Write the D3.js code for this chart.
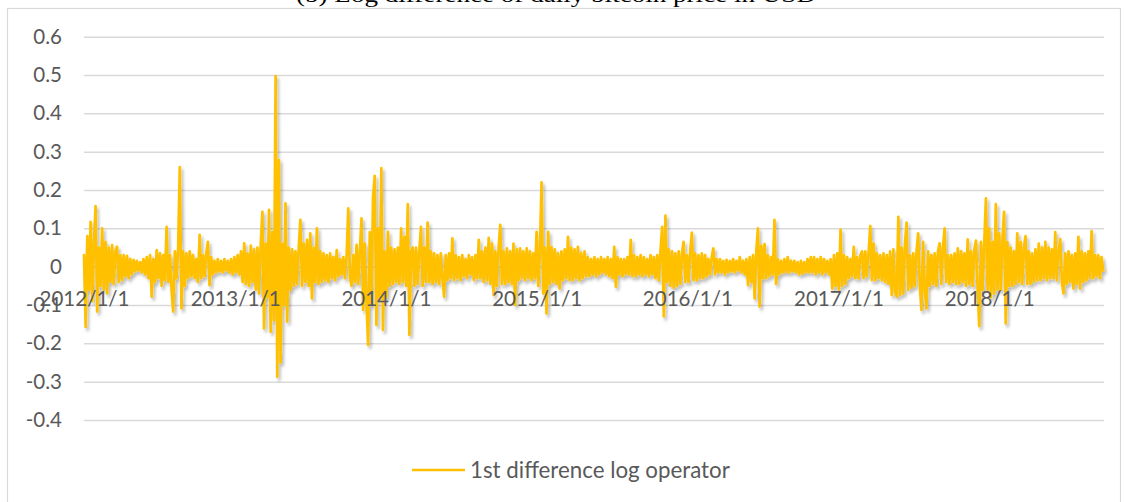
<!DOCTYPE html>
<html><head><meta charset="utf-8">
<script src="https://d3js.org/d3.v7.min.js"></script>
<style>body{margin:0;background:#fff}</style>
</head><body>
<svg id="c" width="1124" height="502"></svg>
<script>
const seriesName = "1st difference log operator";
const startDate = "2012-01-01";
const stepDays = 4;
const values = [
0.03,-0.157,0.08,-0.06,0.117,-0.09,0.06,0.158,-0.117,0.05,
-0.05,0.10,-0.06,0.065,-0.07,0.05,-0.04,0.056,-0.045,0.04,
0.052,-0.04,0.03,-0.035,0.03,-0.025,0.028,-0.03,0.02,-0.02,
0.018,-0.012,0.015,-0.01,0.012,-0.015,0.02,-0.02,0.025,-0.03,
0.03,-0.078,0.02,-0.04,0.043,-0.03,0.035,-0.05,0.03,-0.035,
0.104,-0.04,0.03,-0.06,-0.117,0.04,-0.03,0.05,0.26,-0.109,
0.04,-0.05,0.035,-0.03,0.04,-0.025,0.03,-0.03,0.02,-0.04,
0.083,-0.03,0.03,-0.025,0.035,0.065,-0.048,0.025,-0.02,0.015,
-0.015,0.02,-0.012,0.015,-0.015,0.02,-0.01,0.015,-0.015,0.02,
-0.02,0.025,-0.015,0.03,-0.02,0.04,-0.04,0.061,-0.045,0.035,
-0.05,0.055,-0.04,0.045,-0.06,0.05,-0.07,0.06,0.143,-0.161,
0.06,-0.08,0.148,-0.17,0.09,-0.14,0.497,-0.287,0.278,-0.25,
0.06,-0.1,0.165,-0.143,0.05,-0.06,0.045,-0.05,0.04,-0.045,
0.05,0.122,-0.05,0.06,-0.04,0.07,-0.05,0.087,-0.083,0.05,
-0.04,0.1,-0.045,0.04,-0.04,0.035,-0.035,0.03,-0.04,0.035,
-0.03,0.025,-0.035,0.043,-0.025,0.02,-0.02,0.025,-0.03,0.03,
0.152,-0.03,-0.05,0.03,-0.04,0.057,-0.045,0.04,0.126,-0.113,
0.06,-0.09,-0.204,0.09,-0.1,0.183,0.237,-0.152,0.1,-0.08,
0.257,-0.165,0.04,-0.078,0.091,-0.05,0.05,-0.045,0.045,-0.04,
0.05,-0.045,0.1,-0.04,0.078,-0.05,0.163,-0.178,0.04,0.05,
-0.05,0.05,-0.045,0.04,0.104,-0.05,0.05,-0.04,0.115,-0.04,
0.04,-0.045,0.035,-0.04,0.03,-0.045,0.035,-0.03,-0.078,0.03,
-0.035,0.035,-0.03,0.074,-0.035,0.03,-0.03,0.025,-0.035,0.03,
-0.025,0.02,-0.03,0.03,-0.02,0.025,-0.035,0.03,-0.03,0.07,
-0.03,0.04,-0.04,0.05,-0.035,0.075,-0.045,0.06,-0.074,0.04,
-0.05,0.05,0.109,-0.045,0.04,-0.045,0.048,-0.04,0.04,-0.045,
0.06,-0.1,0.045,-0.035,0.048,-0.03,0.04,-0.035,0.048,-0.03,
0.04,-0.035,0.035,-0.03,0.091,-0.05,0.04,0.22,-0.07,0.05,
-0.122,0.091,-0.045,0.052,-0.04,0.045,-0.045,0.035,-0.057,0.04,
-0.035,0.045,-0.03,0.078,-0.035,0.05,-0.035,0.045,-0.03,0.052,
-0.035,0.035,-0.03,0.04,-0.025,0.025,-0.025,0.02,-0.02,0.025,
-0.025,0.02,-0.02,0.025,-0.015,0.02,-0.02,0.025,-0.025,0.02,
-0.03,0.052,-0.052,0.025,-0.02,0.02,-0.025,0.02,-0.02,0.025,
-0.02,0.07,-0.025,0.03,-0.025,0.025,-0.02,0.03,-0.025,0.025,
-0.02,0.02,-0.025,0.03,-0.02,0.025,-0.03,0.03,-0.035,0.04,
0.104,-0.13,0.133,-0.04,0.045,-0.05,0.04,-0.055,0.035,-0.05,
0.04,-0.045,0.035,0.065,-0.04,0.03,-0.04,0.04,0.089,-0.035,
0.035,-0.035,0.03,-0.03,0.035,-0.03,0.03,-0.025,0.02,-0.02,
0.025,0.048,-0.02,0.02,-0.015,0.02,-0.015,0.015,-0.02,0.018,
-0.015,0.015,-0.012,0.02,-0.015,0.015,-0.01,0.025,-0.015,0.015,
-0.02,0.02,-0.048,0.025,-0.04,0.03,-0.083,0.04,0.1,-0.104,
0.055,-0.03,0.059,-0.03,0.03,-0.025,0.025,-0.02,0.122,-0.045,
0.02,-0.02,0.015,-0.015,0.02,-0.015,0.025,-0.015,0.015,-0.012,
0.015,-0.015,0.012,-0.02,0.015,-0.018,0.012,-0.015,0.02,-0.015,
0.025,-0.015,0.025,-0.02,0.02,-0.015,0.025,-0.02,0.02,-0.015,
0.015,-0.02,0.02,-0.057,0.03,-0.05,0.035,-0.06,0.097,-0.05,
0.03,-0.045,0.025,-0.03,0.02,-0.025,0.052,-0.03,0.025,-0.03,
0.03,0.04,-0.03,0.04,-0.025,0.035,0.106,-0.035,0.06,-0.035,
0.035,-0.03,0.03,-0.035,0.035,-0.04,0.03,-0.045,0.04,-0.074,
0.045,-0.065,-0.078,0.13,-0.074,0.05,-0.07,0.06,0.115,-0.06,
0.03,-0.055,0.035,-0.05,0.04,0.087,-0.05,-0.113,0.065,-0.06,
-0.109,0.04,-0.05,0.03,-0.045,0.035,-0.05,0.04,0.061,-0.045,
0.05,0.1,-0.04,0.03,-0.045,0.03,-0.04,0.035,-0.045,0.048,
-0.045,0.04,-0.04,0.035,-0.05,0.071,-0.045,0.04,-0.05,0.045,
0.068,-0.06,-0.155,0.065,-0.06,0.06,0.178,-0.06,0.1,-0.08,
0.065,-0.07,0.163,-0.06,0.087,-0.06,0.07,0.143,-0.148,0.065,
-0.05,0.05,-0.05,0.04,-0.045,0.087,-0.04,0.065,-0.045,0.05,
0.08,-0.045,0.04,-0.045,0.035,-0.04,0.045,-0.035,0.06,-0.035,
0.05,-0.03,0.065,-0.035,0.05,-0.03,0.045,-0.03,0.09,-0.035,
0.04,0.072,-0.04,-0.07,0.035,-0.045,0.04,-0.04,0.03,-0.057,
0.035,-0.045,0.078,-0.057,0.04,-0.04,0.035,-0.035,0.04,-0.03,
0.093,-0.03,0.03,-0.025,0.03,-0.03,0.025,-0.01
];
const xDomain = ["2012-01-01", "2018-10-06"];
const xTickDates = ["2012-01-01","2013-01-01","2014-01-01","2015-01-01","2016-01-01","2017-01-01","2018-01-01"];
const xTickLabels = ["2012/1/1","2013/1/1","2014/1/1","2015/1/1","2016/1/1","2017/1/1","2018/1/1"];
const yTicks = [-0.4,-0.3,-0.2,-0.1,0,0.1,0.2,0.3,0.4,0.5,0.6];
const yTickLabels = ["-0.4","-0.3","-0.2","-0.1","0","0.1","0.2","0.3","0.4","0.5","0.6"];
const titleText = "(b) Log difference of daily bitcoin price in USD";

// ---- drawing ----
const svg = d3.select("#c");
const parse = d3.utcParse("%Y-%m-%d");
const t0 = parse(startDate);
const data = values.map((v,i)=>({d: d3.utcDay.offset(t0, i*stepDays), v}));

const L = 84, R = 1104;
const x = d3.scaleUtc().domain(xDomain.map(parse)).range([L, R]);
const y = d3.scaleLinear().domain([-0.4, 0.6]).range([420, 36.7]);

const FONT = "Lato, 'Open Sans', sans-serif";
const GRAY = "#595959";

function fitSize(txt, target, family){
  const t = svg.append("text").attr("font-family", family).attr("font-size", 100).text(txt);
  const w = t.node().getComputedTextLength(); t.remove();
  return 100*target/w;
}
const axisFs = fitSize("2013/1/1", 90, FONT);
const legFs = fitSize(seriesName, 260, FONT);

const defs = svg.append("defs");
const f = defs.append("filter").attr("id","sh").attr("x","-5%").attr("y","-10%").attr("width","110%").attr("height","120%");
f.append("feDropShadow").attr("dx",2).attr("dy",3).attr("stdDeviation",1.8)
  .attr("flood-color","#000").attr("flood-opacity",0.28);

// chart border
svg.append("rect").attr("x",7.5).attr("y",8.5).attr("width",1113).attr("height",520)
  .attr("fill","#fff").attr("stroke","#d9d9d9").attr("stroke-width",1.2);

// title (mostly cut off at the top)
svg.append("text").attr("x",556).attr("y",1.5).attr("text-anchor","middle")
  .attr("font-family","'Liberation Serif', 'Times New Roman', serif").attr("font-size",20)
  .attr("fill","#000").attr("textLength",520).attr("lengthAdjust","spacingAndGlyphs").text(titleText);

// y axis with gridlines
const yAxis = d3.axisLeft(y).tickValues(yTicks)
  .tickFormat((d,i)=>yTickLabels[i]).tickSize(-(R-L)).tickPadding(22);
const gy = svg.append("g").attr("transform",`translate(${L},0)`).call(yAxis);
gy.select(".domain").remove();
gy.selectAll(".tick line").attr("stroke","#d9d9d9").attr("stroke-width",1.5);
gy.selectAll(".tick text").attr("fill",GRAY).attr("font-family",FONT).attr("font-size",axisFs).attr("x",-22);

// series line
const line = d3.line().x(d=>x(d.d)).y(d=>y(d.v)).curve(d3.curveLinear);
svg.append("path").datum(data).attr("d",line).attr("fill","none")
  .attr("stroke","#FFC000").attr("stroke-width",2.7).attr("stroke-linejoin","round")
  .attr("stroke-linecap","round").attr("filter","url(#sh)");

// x axis labels (drawn on top)
const xAxis = d3.axisBottom(x).tickValues(xTickDates.map(parse))
  .tickFormat((d,i)=>xTickLabels[i]).tickSize(0);
const gx = svg.append("g").attr("transform",`translate(0,${y(0)})`).call(xAxis);
gx.select(".domain").remove();
gx.selectAll(".tick text").attr("fill",GRAY).attr("font-family",FONT).attr("font-size",axisFs)
  .attr("y",39).attr("dy",0);

// legend
svg.append("line").attr("x1",412).attr("x2",465).attr("y1",470).attr("y2",470)
  .attr("stroke","#FFC000").attr("stroke-width",2.7);
svg.append("text").attr("x",470).attr("y",470).attr("dy","0.35em").attr("fill",GRAY)
  .attr("font-family",FONT).attr("font-size",legFs).text(seriesName);
</script>
</body></html>
